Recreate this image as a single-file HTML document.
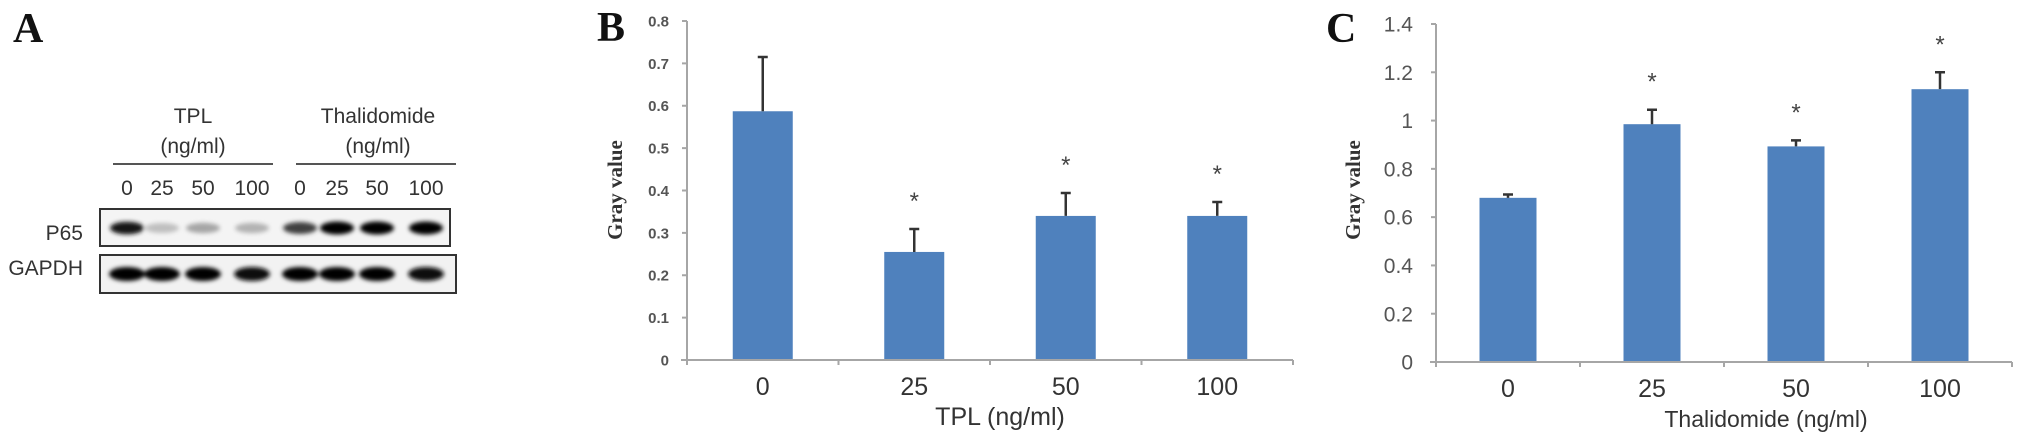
<!DOCTYPE html>
<html><head><meta charset="utf-8"><style>
html,body{margin:0;padding:0;background:#fff;}
svg{display:block;}
</style></head><body>
<svg id="fig" width="2031" height="438" viewBox="0 0 2031 438" xmlns="http://www.w3.org/2000/svg">
<defs>
<filter id="blur" x="-50%" y="-100%" width="200%" height="300%"><feGaussianBlur stdDeviation="2.2"/></filter>
</defs>
<!-- Panel A -->
<g>
<text x="13" y="42" font-family="Liberation Serif, serif" font-weight="bold" font-size="42" fill="#111">A</text>
<g font-family="Liberation Sans, sans-serif" font-size="21" fill="#333" text-anchor="middle">
<text x="193" y="123">TPL</text>
<text x="193" y="153">(ng/ml)</text>
<text x="378" y="123">Thalidomide</text>
<text x="378" y="153">(ng/ml)</text>
<line x1="113" y1="164" x2="273" y2="164" stroke="#555" stroke-width="2"/>
<line x1="296" y1="164" x2="456" y2="164" stroke="#555" stroke-width="2"/>
<g id="laneLabels"></g>
<text x="83" y="240" text-anchor="end">P65</text>
<text x="83" y="275" text-anchor="end">GAPDH</text>
</g>
<rect x="100" y="209" width="350" height="37" fill="#f4f4f4" stroke="#333" stroke-width="2"/>
<rect x="100" y="255" width="356" height="38" fill="#f2f2f2" stroke="#333" stroke-width="2"/>
<g id="bands" filter="url(#blur)"></g>
</g>

<!-- Panel B -->
<g id="chartB">
<text x="597" y="41" font-family="Liberation Serif, serif" font-weight="bold" font-size="42" fill="#111">B</text>
<text transform="translate(622,190) rotate(-90)" text-anchor="middle" font-family="Liberation Serif, serif" font-weight="bold" font-size="21" fill="#333">Gray value</text>
<text x="1000" y="425" text-anchor="middle" font-family="Liberation Sans, sans-serif" font-size="25" fill="#333">TPL (ng/ml)</text>
</g>

<!-- Panel C -->
<g id="chartC">
<text x="1326" y="42" font-family="Liberation Serif, serif" font-weight="bold" font-size="42" fill="#111">C</text>
<text transform="translate(1360,190) rotate(-90)" text-anchor="middle" font-family="Liberation Serif, serif" font-weight="bold" font-size="21" fill="#333">Gray value</text>
<text x="1766" y="427" text-anchor="middle" font-family="Liberation Sans, sans-serif" font-size="23" fill="#333">Thalidomide (ng/ml)</text>
</g>
</svg>
<script>
// Panel A data
const laneLabels = ["0","25","50","100","0","25","50","100"];
const p65Intensity = [0.9, 0.25, 0.35, 0.3, 0.75, 1.0, 0.98, 1.0];
const gapdhIntensity = [1.0, 1.0, 1.0, 0.95, 1.0, 0.98, 1.0, 0.95];

// Panel B data
const bCategories = ["0","25","50","100"];
const bValues = [0.587, 0.255, 0.34, 0.34];
const bErrors = [0.128, 0.054, 0.054, 0.033];
const bStars = [false, true, true, true];
const bTicks = ["0","0.1","0.2","0.3","0.4","0.5","0.6","0.7","0.8"];

// Panel C data
const cCategories = ["0","25","50","100"];
const cValues = [0.68, 0.985, 0.893, 1.13];
const cErrors = [0.014, 0.06, 0.025, 0.07];
const cStars = [false, true, true, true];
const cTicks = ["0","0.2","0.4","0.6","0.8","1","1.2","1.4"];

const NS = "http://www.w3.org/2000/svg";
function mk(tag, attrs, parent){const e=document.createElementNS(NS,tag);for(const k in attrs)e.setAttribute(k,attrs[k]);parent.appendChild(e);return e;}

// Western blot
const laneX = [127,162,203,252,300,337,377,426];
const ll = document.getElementById('laneLabels');
laneLabels.forEach((t,i)=>{
  const e = mk('text',{x:laneX[i],y:195},ll);
  e.textContent = t;
  
  
});
const bands = document.getElementById('bands');
p65Intensity.forEach((v,i)=>{
  const g = Math.round(255*(1-v));
  const e = mk('ellipse',{cx:laneX[i],cy:228,rx:17,ry:4.5+2*v,fill:`rgb(${g},${g},${g})`},bands);
  
  
});
gapdhIntensity.forEach((v,i)=>{
  const g = Math.round(255*(1-v));
  const e = mk('ellipse',{cx:laneX[i],cy:274,rx:18,ry:7,fill:`rgb(${g},${g},${g})`},bands);
  
  
});

function drawChart(gid, cfg){
  const g = document.getElementById(gid);
  const y = v => cfg.y0 - (v/cfg.ymax)*(cfg.y0-cfg.yTop);
  const step = (cfg.x1-cfg.x0)/cfg.cats.length;
  const x = i => cfg.x0 + step*(i+0.5);
  const ya = mk('line',{x1:cfg.x0,y1:cfg.yTop,x2:cfg.x0,y2:cfg.y0,stroke:'#a6a6a6','stroke-width':2},g);
  
  
  cfg.ticks.forEach(t=>{
    const v = parseFloat(t), yy = y(v);
    mk('line',{x1:cfg.x0-5,y1:yy,x2:cfg.x0,y2:yy,stroke:'#a6a6a6','stroke-width':2},g);
    const e = mk('text',{x:cfg.labelX,y:yy+cfg.tickFont*0.36,'text-anchor':'end','font-family':'Liberation Sans, sans-serif','font-size':cfg.tickFont,'font-weight':cfg.tickBold?'bold':'normal',fill:'#555'},g);
    e.textContent = t;
    
    
  });
  cfg.vals.forEach((v,i)=>{
    const top = y(v);
    const b = mk('rect',{x:x(i)-cfg.bw/2,y:top,width:cfg.bw,height:cfg.y0-top,fill:'#4f81bd'},g);
    
    
    const et = y(v+cfg.errs[i]);
    const eb = mk('path',{d:`M${x(i)} ${top} V${et} M${x(i)-5} ${et} H${x(i)+5}`,stroke:'#333','stroke-width':2.5,fill:'none'},g);
    
    
    if(cfg.stars[i]){
      const s = mk('text',{x:x(i),y:et-cfg.starGap,'text-anchor':'middle','font-family':'Liberation Sans, sans-serif','font-size':24,fill:'#444'},g);
      s.textContent = '*';
      
      
    }
    const cl = mk('text',{x:x(i),y:cfg.catY,'text-anchor':'middle','font-family':'Liberation Sans, sans-serif','font-size':25,fill:'#333'},g);
    cl.textContent = cfg.cats[i];
    
    
  });
  const xa = mk('line',{x1:cfg.x0-6,y1:cfg.y0,x2:cfg.x1,y2:cfg.y0,stroke:'#a6a6a6','stroke-width':2},g);
  
  
  for(let i=0;i<=cfg.cats.length;i++){
    const xx = cfg.x0+step*i;
    mk('line',{x1:xx,y1:cfg.y0,x2:xx,y2:cfg.y0+5,stroke:'#a6a6a6','stroke-width':2},g);
  }
}

drawChart('chartB',{x0:687,x1:1293,y0:360,yTop:21,ymax:0.8,cats:bCategories,vals:bValues,errs:bErrors,stars:bStars,ticks:bTicks,bw:60,labelX:669,tickFont:15,tickBold:true,catY:395,starGap:20});
drawChart('chartC',{x0:1436,x1:2012,y0:362,yTop:24,ymax:1.4,cats:cCategories,vals:cValues,errs:cErrors,stars:cStars,ticks:cTicks,bw:57,labelX:1413,tickFont:21,tickBold:false,catY:397,starGap:20});
</script>
</body></html>
